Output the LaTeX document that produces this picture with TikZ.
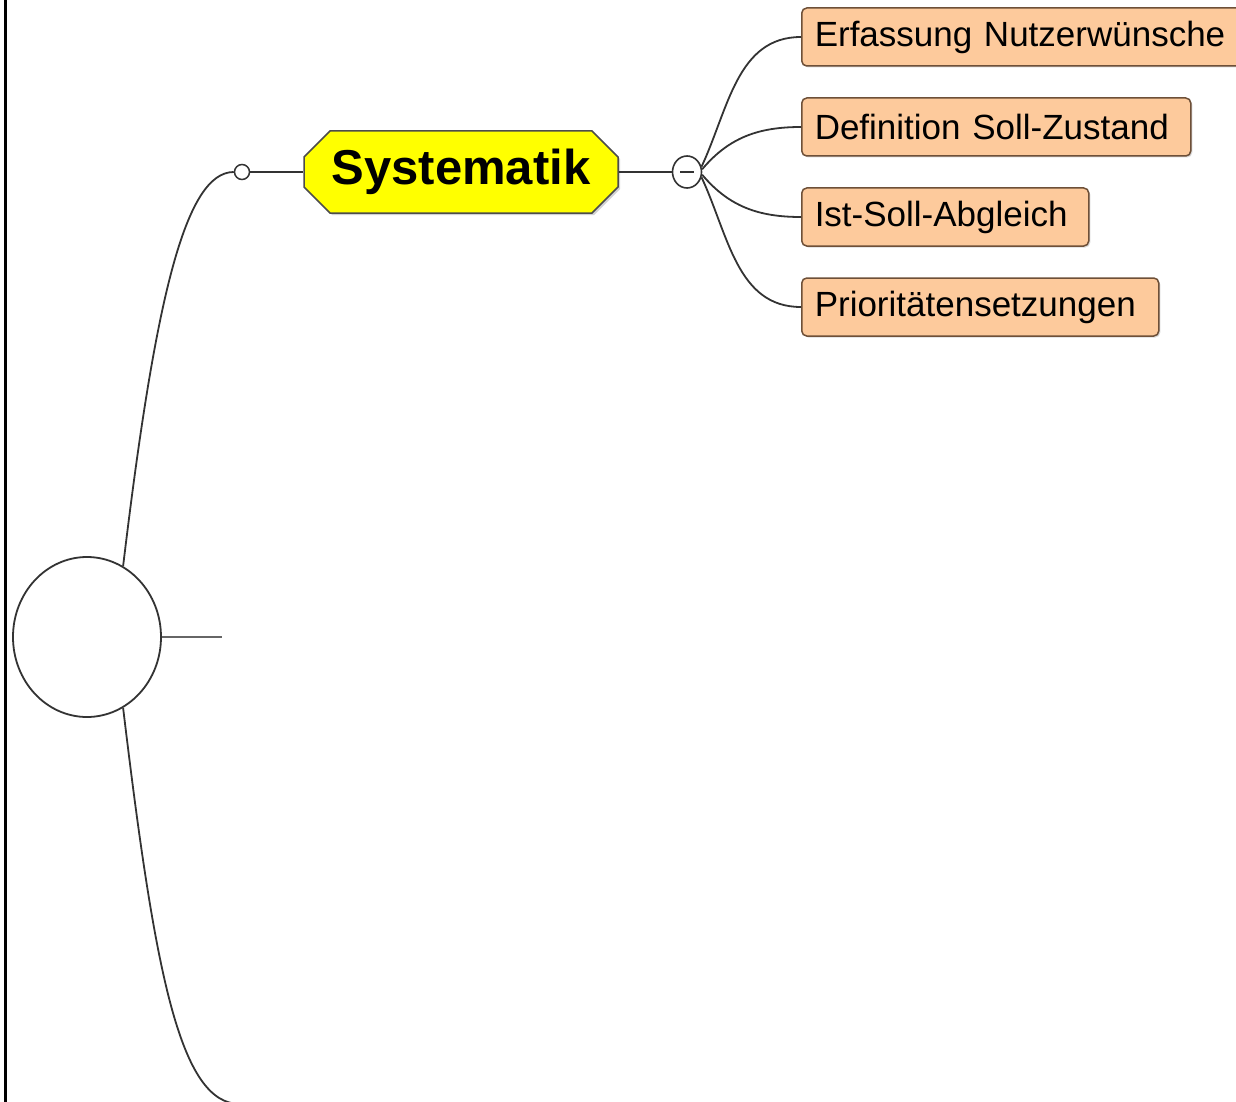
\documentclass[tikz,border=0pt]{standalone}
\usepackage{fontspec}
\setmainfont{Liberation Sans}
\usetikzlibrary{shapes.misc,shapes.geometric,shadows}
\definecolor{orangebox}{HTML}{FDCA9C}
\definecolor{orangeedge}{HTML}{6E5038}
\definecolor{sysyellow}{HTML}{FFFF00}
\definecolor{lineg}{HTML}{333333}
\tikzset{
  conn/.style={draw=lineg, line width=1.8pt},
  leaf/.style={draw=orangeedge, line width=1.5pt, fill=orangebox, rounded corners=5pt,
    anchor=west, minimum height=58pt, inner xsep=13pt, inner ysep=0pt, align=left,
    font=\fontsize{35}{40}\selectfont,
    drop shadow={shadow xshift=1.5pt, shadow yshift=-1.5pt, fill=gray!60}},
  sysbox/.style={chamfered rectangle, chamfered rectangle xsep=13pt, chamfered rectangle ysep=13pt,
    draw=black!70, line width=1.5pt, fill=sysyellow, minimum width=314pt, minimum height=82pt,
    inner sep=0pt, font=\fontsize{49}{55}\selectfont\bfseries,
    drop shadow={shadow xshift=2pt, shadow yshift=-2pt, fill=gray!70}},
}
\begin{document}
\begin{tikzpicture}[x=1pt,y=-1pt]
\useasboundingbox (0,0) rectangle (1236,1102);
% left border
\draw[line width=3pt, black] (5,-5) -- (5,1107);
% central circle
\node[ellipse, draw=lineg, line width=1.8pt, fill=white, minimum width=148pt, minimum height=160pt, inner sep=0pt] (c) at (87,637) {};
\coordinate (hend) at (222,637);
\draw[draw=gray!80!black, line width=2.4pt] (c.east) -- (hend);
% small circle
\node[circle, draw=lineg, line width=1.5pt, fill=white, minimum size=15pt, inner sep=0pt] (sc) at (242,172) {};
\coordinate (bend) at (240,1104);
\draw[conn] (c.63) .. controls (155,300) and (185,172) .. (sc.west);
\draw[conn] (c.-63) .. controls (155,974) and (180,1104) .. (bend);
% Systematik
\node[sysbox] (sys) at (461,172) {Systematik};
\draw[conn] (sc.east) -- (sys.west);
% minus circle
\node[ellipse, draw=lineg, line width=1.6pt, fill=white, minimum width=29pt, minimum height=32pt, inner sep=0pt] (m) at (687,172) {};
\draw[conn] (sys.east) -- (m.west);
\draw[lineg, line width=1.8pt] ([xshift=-7pt]m.center) -- ([xshift=7pt]m.center);
% leaves
\node[leaf, text width=440pt] (l1) at (801,37) {Erfassung Nutzerwünsche};
\node[leaf, text width=363pt] (l2) at (801,127) {Definition Soll-Zustand};
\node[leaf, text width=261pt] (l3) at (801,217) {Ist-Soll-Abgleich};
\node[leaf, text width=331pt] (l4) at (801,307) {Prioritätensetzungen};
\draw[conn] (m.20) to[out=65,in=180] (l1.west);
\draw[conn] (m.10) to[out=50,in=180] (l2.west);
\draw[conn] (m.-10) to[out=-50,in=180] (l3.west);
\draw[conn] (m.-20) to[out=-65,in=180] (l4.west);
\end{tikzpicture}
\end{document}
